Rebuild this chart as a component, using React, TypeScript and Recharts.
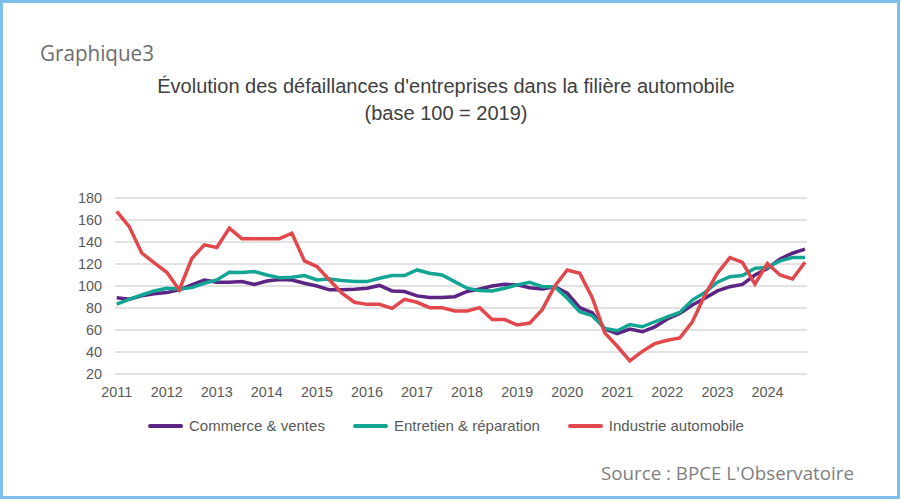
import { CartesianGrid, Line, LineChart, XAxis, YAxis } from 'recharts';

const years = [2011, 2012, 2013, 2014, 2015, 2016, 2017, 2018, 2019, 2020, 2021, 2022, 2023, 2024];
const quarterOffsets = [0, 0.25, 0.5, 0.75];

const commerce = [
  89.4, 88, 91, 93, 94, 96.5, 101, 105.5, 103.5, 103.5, 104, 101.5, 104.5, 106, 105.5, 102.5,
  100, 96.5, 96.5, 97, 98, 100.5, 95.5, 95, 91, 89.5, 89.5, 90.3, 95, 97.3, 100, 101.5,
  101, 98.5, 97.3, 99.4, 93.4, 80.3, 75.8, 60.8, 56.8, 60.8, 58.4, 62.9, 70, 75, 82.7, 88.8,
  95.5, 99.4, 101.5, 110, 116, 124.6, 129.8, 133.5,
];

const entretien = [
  83.6, 87.9, 91.8, 95.5, 97.9, 97.3, 98.5, 102.5, 105.5, 112.5, 112.2, 113.1, 110, 107.6, 108, 109.5,
  105.5, 106.4, 105, 104, 104, 107, 109.5, 109.5, 114.6, 111.6, 110, 104, 98, 95.8, 95.5, 98,
  101, 103.4, 99.4, 99.4, 88.8, 76.6, 73, 61.4, 59.3, 65, 62.9, 67.5, 72, 76, 87.2, 94.2,
  103.4, 108.5, 109.5, 116.1, 116.7, 122.8, 125.8, 125.8,
];

const industrie = [
  167.8, 154, 130, 121, 112.5, 96.4, 125, 137.4, 135, 152.6, 143, 143, 143, 143, 148, 122.8,
  117.7, 105.5, 93.4, 85.2, 83.3, 83.3, 79.7, 87.9, 85.2, 80.3, 80.3, 77.3, 77.3, 80.3, 69.5, 69.5,
  64.5, 66.3, 78.5, 99.8, 114.5, 111.5, 89.3, 57.4, 45.2, 32, 40.6, 47.6, 50.7, 52.8, 67.5, 91.8,
  111.6, 125.8, 121.5, 101.8, 120.4, 110, 106.4, 121.6,
];

const yTicks = [20, 40, 60, 80, 100, 120, 140, 160, 180];

const quarters = years.flatMap((y) => quarterOffsets.map((q) => y + q));

const data = quarters.map((t, i) => ({
  t,
  commerce: commerce[i],
  entretien: entretien[i],
  industrie: industrie[i],
}));

const series = [
  { key: 'commerce', name: 'Commerce & ventes', color: '#5c2483' },
  { key: 'entretien', name: 'Entretien & réparation', color: '#13a593' },
  { key: 'industrie', name: 'Industrie automobile', color: '#e2474b' },
];

const axisFont = { fontFamily: '"Liberation Sans", Arial, sans-serif', fontSize: 14.4, fill: '#595959' };

const App = () => (
  <div
    style={{
      position: 'absolute',
      top: 0,
      left: 0,
      width: 903,
      height: 502,
      background: '#fff',
    }}
  >
    <div
      style={{
        position: 'absolute',
        top: 0,
        left: 0,
        width: 900,
        height: 499,
        border: '3px solid #7dbfea',
        boxSizing: 'border-box',
      }}
    />
    <svg width={903} height={502} style={{ position: 'absolute', top: 0, left: 0 }}>
      <text
        x={40}
        y={61}
        fontFamily='"Open Sans", sans-serif'
        fontSize={21}
        fill="#6d6d6d"
        textLength={114}
        lengthAdjust="spacingAndGlyphs"
      >
        Graphique3
      </text>
      <text
        x={446}
        y={93}
        textAnchor="middle"
        fontFamily='"Liberation Sans", Arial, sans-serif'
        fontSize={20}
        fill="#404040"
      >
        Évolution des défaillances d'entreprises dans la filière automobile
      </text>
      <text
        x={446}
        y={120}
        textAnchor="middle"
        fontFamily='"Liberation Sans", Arial, sans-serif'
        fontSize={20}
        fill="#404040"
      >
        (base 100 = 2019)
      </text>
      <text
        x={601}
        y={480}
        fontFamily='"Open Sans", sans-serif'
        fontSize={18.5}
        fill="#7f7f7f"
        textLength={253}
        lengthAdjust="spacingAndGlyphs"
      >
        Source : BPCE L'Observatoire
      </text>
    </svg>
    <div style={{ position: 'absolute', top: 0, left: 0 }}>
      <LineChart
        width={903}
        height={502}
        data={data}
        margin={{ top: 198, right: 96, left: 55, bottom: 98 }}
      >
        <CartesianGrid vertical={false} stroke="#d9d9d9" strokeWidth={1.5} />
        <XAxis
          dataKey="t"
          type="number"
          domain={[2010.966, 2024.79]}
          ticks={years}
          interval={0}
          allowDataOverflow
          axisLine={false}
          tickLine={false}
          tickSize={0}
          tickMargin={13}
          height={30}
          tick={axisFont}
        />
        <YAxis
          domain={[20, 180]}
          ticks={yTicks}
          interval={0}
          axisLine={false}
          tickLine={false}
          tickSize={0}
          tickMargin={13}
          width={60}
          tick={axisFont}
        />
        {series.map((s) => (
          <Line
            key={s.key}
            type="linear"
            dataKey={s.key}
            name={s.name}
            stroke={s.color}
            strokeWidth={3.5}
            dot={false}
            isAnimationActive={false}
          />
        ))}
      </LineChart>
    </div>
    <div
      style={{
        position: 'absolute',
        top: 417,
        left: 148,
        display: 'flex',
        alignItems: 'center',
        fontFamily: '"Liberation Sans", Arial, sans-serif',
        fontSize: 15,
        lineHeight: '18px',
        color: '#595959',
      }}
    >
      {series.map((s, i) => (
        <div
          key={s.key}
          style={{ display: 'flex', alignItems: 'center', marginLeft: i === 0 ? 0 : 28 }}
        >
          <span
            style={{
              display: 'inline-block',
              width: 35,
              height: 4,
              borderRadius: 2,
              background: s.color,
              marginRight: 6,
            }}
          />
          <span>{s.name}</span>
        </div>
      ))}
    </div>
  </div>
);

export default App;
